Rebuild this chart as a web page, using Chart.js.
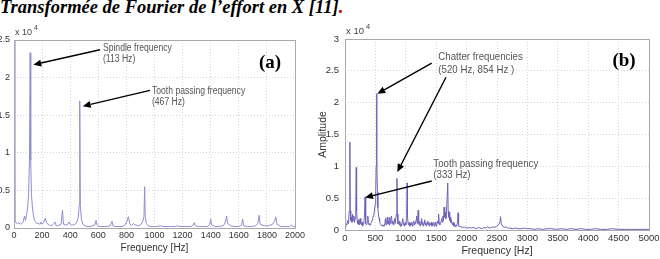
<!DOCTYPE html>
<html><head><meta charset="utf-8">
<script src="https://cdn.jsdelivr.net/npm/chart.js@4.4.1/dist/chart.umd.min.js"></script>
<style>
html,body{margin:0;padding:0;background:#fff;}
#page{position:relative;width:660px;height:259px;overflow:hidden;background:#fff;}
#title{position:absolute;left:0;top:-3px;font:bold italic 18.5px "Liberation Serif","Times New Roman",serif;color:#000;white-space:nowrap;}
#title span{color:#c00000;}
.box{position:absolute;}
</style></head><body>
<div id="page">
<div id="title">Transformée de Fourier de l’effort en X [11]<span>.</span></div>
<div class="box" style="left:310px;top:20px;width:350px;height:239px"><canvas id="chartB" width="350" height="239"></canvas></div>
<div class="box" style="left:0;top:20px;width:312px;height:239px"><canvas id="chartA" width="312" height="239"></canvas></div>
</div>
<script>
// spectrum (a): [frequency Hz, amplitude x1e4]
const spectrumA = [
  [0,2.5],[6,0.1],[15,0.07],[25,0.06],[35,0.07],[45,0.05],[55,0.06],[65,0.08],[75,0.16],[82,0.1],
  [90,0.18],[98,0.3],[104,0.45],[110,0.9],[115,2.33],[119,0.9],[124,0.45],[130,0.3],[137,0.18],[146,0.1],
  [155,0.07],[165,0.06],[175,0.06],[185,0.05],[192,0.08],[200,0.05],[210,0.07],[222,0.13],[230,0.08],[240,0.05],
  [250,0.04],[262,0.03],[275,0.04],[292,0.08],[300,0.03],[310,0.03],[322,0.04],[335,0.05],[345,0.24],[352,0.05],
  [365,0.04],[378,0.04],[392,0.08],[400,0.05],[410,0.04],[422,0.04],[435,0.05],[448,0.08],[458,0.15],[464,0.3],
  [468,1.69],[472,0.3],[480,0.12],[490,0.05],[505,0.03],[520,0.02],[540,0.02],[560,0.03],[575,0.04],[584,0.1],
  [592,0.04],[605,0.02],[625,0.02],[645,0.02],[665,0.02],[685,0.03],[697,0.09],[704,0.03],[720,0.02],[745,0.02],
  [770,0.02],[790,0.04],[802,0.08],[814,0.15],[824,0.06],[835,0.03],[850,0.06],[860,0.04],[870,0.04],[885,0.03],
  [900,0.04],[915,0.08],[925,0.15],[930,0.55],[934,0.15],[942,0.06],[955,0.03],[975,0.02],[1000,0.02],[1020,0.02],
  [1040,0.03],[1060,0.02],[1090,0.02],[1120,0.02],[1150,0.02],[1162,0.03],[1175,0.02],[1200,0.02],[1230,0.02],[1260,0.02],
  [1275,0.04],[1283,0.07],[1290,0.03],[1320,0.02],[1350,0.02],[1380,0.02],[1393,0.05],[1400,0.12],[1406,0.04],[1430,0.02],
  [1460,0.02],[1490,0.03],[1505,0.08],[1513,0.16],[1520,0.06],[1540,0.03],[1570,0.02],[1600,0.02],[1620,0.04],[1628,0.12],
  [1634,0.03],[1660,0.02],[1690,0.02],[1720,0.03],[1735,0.06],[1745,0.17],[1752,0.05],[1780,0.03],[1810,0.03],[1840,0.05],
  [1855,0.09],[1863,0.15],[1872,0.05],[1900,0.02],[1930,0.02],[1960,0.02],[1975,0.04],[1985,0.02],[2000,0.02]
];
// spectrum (b): [frequency Hz, amplitude x1e4]
const spectrumB = [
  [0,0.05],[15,0.1],[30,0.08],[45,0.15],[58,0.1],[70,0.3],[80,1.38],[86,0.3],[95,0.15],[105,0.2],
  [115,0.12],[125,0.25],[135,0.15],[145,0.22],[155,0.12],[165,0.18],[177,0.3],[185,0.98],[191,0.3],[200,0.15],
  [210,0.1],[220,0.16],[230,0.08],[240,0.12],[250,0.18],[260,0.1],[270,0.08],[280,0.12],[290,0.06],[300,0.1],
  [310,0.15],[320,0.2],[330,0.52],[336,0.2],[345,0.1],[355,0.08],[365,0.12],[375,0.22],[385,0.12],[395,0.08],
  [405,0.1],[415,0.08],[425,0.1],[435,0.12],[445,0.15],[455,0.18],[465,0.22],[475,0.25],[485,0.3],[495,0.4],
  [505,0.6],[513,1.0],[520,2.14],[525,1.1],[533,0.6],[540,0.35],[550,0.25],[560,0.18],[570,0.14],[580,0.1],
  [595,0.08],[610,0.06],[625,0.08],[640,0.06],[655,0.1],[665,0.18],[675,0.08],[685,0.12],[695,0.2],[705,0.1],
  [715,0.14],[725,0.08],[735,0.2],[745,0.1],[755,0.16],[765,0.22],[775,0.1],[785,0.14],[795,0.08],[805,0.12],
  [815,0.18],[825,0.1],[845,0.25],[854,0.81],[860,0.25],[870,0.1],[880,0.12],[890,0.08],[900,0.14],[910,0.06],
  [920,0.1],[930,0.06],[940,0.12],[950,0.18],[960,0.08],[970,0.1],[980,0.06],[990,0.12],[1000,0.08],[1008,0.15],
  [1015,0.25],[1022,0.74],[1028,0.22],[1038,0.1],[1048,0.08],[1058,0.12],[1068,0.06],[1078,0.1],[1088,0.08],[1098,0.12],
  [1108,0.06],[1118,0.1],[1128,0.14],[1138,0.08],[1148,0.12],[1158,0.1],[1168,0.16],[1178,0.22],[1188,0.1],[1196,0.2],
  [1204,0.31],[1211,0.12],[1220,0.08],[1230,0.14],[1240,0.06],[1250,0.1],[1260,0.18],[1270,0.08],[1280,0.12],[1290,0.06],
  [1300,0.1],[1310,0.16],[1320,0.08],[1330,0.12],[1340,0.06],[1350,0.1],[1360,0.14],[1370,0.08],[1380,0.12],[1390,0.06],
  [1400,0.1],[1410,0.08],[1420,0.12],[1430,0.06],[1440,0.1],[1450,0.08],[1460,0.12],[1470,0.06],[1480,0.08],[1490,0.12],
  [1500,0.06],[1510,0.1],[1520,0.14],[1530,0.1],[1540,0.25],[1550,0.1],[1560,0.08],[1570,0.12],[1580,0.14],[1590,0.18],
  [1600,0.12],[1610,0.22],[1620,0.15],[1630,0.36],[1640,0.2],[1650,0.28],[1660,0.18],[1670,0.3],[1690,0.74],[1697,0.3],
  [1705,0.2],[1713,0.28],[1722,0.15],[1730,0.2],[1740,0.12],[1750,0.16],[1760,0.1],[1770,0.08],[1780,0.12],[1790,0.06],
  [1800,0.1],[1812,0.05],[1825,0.08],[1838,0.06],[1850,0.12],[1860,0.27],[1868,0.08],[1880,0.05],[1895,0.06],[1910,0.04],
  [1925,0.05],[1945,0.04],[1965,0.05],[1985,0.03],[2005,0.04],[2030,0.03],[2055,0.04],[2080,0.03],[2105,0.04],[2135,0.03],
  [2165,0.02],[2195,0.04],[2225,0.03],[2255,0.02],[2285,0.04],[2315,0.03],[2345,0.05],[2375,0.03],[2405,0.04],[2435,0.05],
  [2465,0.04],[2495,0.06],[2525,0.08],[2548,0.12],[2558,0.21],[2570,0.1],[2592,0.06],[2620,0.04],[2650,0.05],[2680,0.03],
  [2710,0.03],[2750,0.02],[2800,0.03],[2850,0.02],[2900,0.02],[2950,0.03],[3000,0.02],[3060,0.02],[3120,0.01],[3180,0.02],
  [3250,0.01],[3320,0.02],[3400,0.02],[3480,0.01],[3560,0.02],[3640,0.01],[3720,0.02],[3800,0.01],[3880,0.02],[3960,0.01],
  [4040,0.01],[4120,0.02],[4200,0.01],[4300,0.01],[4400,0.02],[4500,0.01],[4600,0.01],[4700,0.01],[4800,0.01],[4900,0.01],
  [5000,0.01]
];

const xTicksA = [0, 200, 400, 600, 800, 1000, 1200, 1400, 1600, 1800, 2000];
const yTicksA = [0, 0.5, 1, 1.5, 2, 2.5];
const xTicksB = [0, 500, 1000, 1500, 2000, 2500, 3000, 3500, 4000, 4500, 5000];
const yTicksB = [0, 0.5, 1, 1.5, 2, 2.5, 3];

// annotations in data coordinates
const notesA = {
  texts: [
    { x: 633, y: 2.39, t: 'Spindle frequency' }, { x: 633, y: 2.24, t: '(113 Hz)' },
    { x: 982, y: 1.82, t: 'Tooth passing frequency' }, { x: 982, y: 1.67, t: '(467 Hz)' }
  ],
  arrows: [
    { from: [612, 2.37], to: [137, 2.17] },
    { from: [968, 1.83], to: [489, 1.62] }
  ],
  panel: { x: 1822, y: 2.19, t: '(a)' }
};
const notesB = {
  texts: [
    { x: 1535, y: 2.72, t: 'Chatter frequencies' }, { x: 1535, y: 2.51, t: '(520 Hz, 854 Hz )' },
    { x: 1453, y: 1.03, t: 'Tooth passing frequency' }, { x: 1453, y: 0.86, t: '(333 Hz)' }
  ],
  arrows: [
    { from: [1426, 2.62], to: [531, 2.14] },
    { from: [1661, 2.40], to: [860, 0.91] },
    { from: [1426, 0.77], to: [329, 0.51] }
  ],
  panel: { x: 4589, y: 2.66, t: '(b)' }
};

const SANS = '"Liberation Sans",Arial,sans-serif';

const notesPlugin = {
  id: 'notes',
  afterDraw(chart, args, o) {
    const ctx = chart.ctx, a = chart.chartArea;
    const sx = chart.scales.x, sy = chart.scales.y;
    const px = v => sx.getPixelForValue(v), py = v => sy.getPixelForValue(v);
    ctx.save();
    // axes box
    ctx.strokeStyle = '#a8a8b0';
    ctx.lineWidth = 1;
    ctx.strokeRect(Math.round(a.left) + 0.5, Math.round(a.top) + 0.5, Math.round(a.right - a.left), Math.round(a.bottom - a.top));
    // exponent
    ctx.fillStyle = '#444';
    ctx.textAlign = 'left';
    ctx.textBaseline = 'alphabetic';
    ctx.font = o.expSize + 'px ' + SANS;
    ctx.fillText('x 10', a.left + 1, a.top - 5);
    const w = ctx.measureText('x 10').width;
    ctx.font = (o.expSize - 2) + 'px ' + SANS;
    ctx.fillText('4', a.left + 3 + w, a.top - 10);
    // texts (narrow face, like the original)
    ctx.fillStyle = '#555';
    ctx.textBaseline = 'middle';
    ctx.font = o.textSize + 'px ' + SANS;
    o.data.texts.forEach(t => {
      ctx.save();
      ctx.translate(px(t.x), py(t.y));
      ctx.scale(o.squeeze, 1);
      ctx.fillText(t.t, 0, 0);
      ctx.restore();
    });
    // arrows
    ctx.strokeStyle = '#000';
    ctx.fillStyle = '#000';
    ctx.lineWidth = 1.4;
    o.data.arrows.forEach(ar => {
      const x1 = px(ar.from[0]), y1 = py(ar.from[1]);
      const x2 = px(ar.to[0]), y2 = py(ar.to[1]);
      const ang = Math.atan2(y2 - y1, x2 - x1);
      const L = 8, H = 3.5;
      const bx = x2 - L * Math.cos(ang), by = y2 - L * Math.sin(ang);
      ctx.beginPath();
      ctx.moveTo(x1, y1);
      ctx.lineTo(bx, by);
      ctx.stroke();
      ctx.beginPath();
      ctx.moveTo(x2, y2);
      ctx.lineTo(bx + H * Math.sin(ang), by - H * Math.cos(ang));
      ctx.lineTo(bx - H * Math.sin(ang), by + H * Math.cos(ang));
      ctx.closePath();
      ctx.fill();
    });
    // panel label
    const p = o.data.panel;
    ctx.font = 'bold 19px "Liberation Serif","Times New Roman",serif';
    ctx.textAlign = 'center';
    ctx.fillStyle = '#000';
    ctx.fillText(p.t, px(p.x), py(p.y));
    ctx.restore();
  }
};

function makeChart(id, spec, xTicks, yTicks, cfg) {
  const tickFont = { family: SANS, size: cfg.tickSize };
  new Chart(document.getElementById(id), {
    type: 'line',
    data: {
      datasets: [{
        data: spec.map(p => ({ x: p[0], y: p[1] })),
        borderColor: cfg.color,
        borderWidth: 1,
        pointRadius: 0,
        tension: 0,
        fill: false
      }]
    },
    options: {
      responsive: false,
      animation: false,
      devicePixelRatio: 1,
      layout: { padding: { top: cfg.top, right: cfg.right, left: 0, bottom: 0 } },
      plugins: {
        legend: { display: false },
        tooltip: { enabled: false },
        notes: { data: cfg.notes, expSize: cfg.tickSize, textSize: cfg.textSize, squeeze: cfg.squeeze }
      },
      scales: {
        x: {
          type: 'linear',
          min: xTicks[0], max: xTicks[xTicks.length - 1],
          afterBuildTicks: s => { s.ticks = xTicks.map(v => ({ value: v })); },
          ticks: { font: tickFont, color: '#333', padding: cfg.xPad, maxRotation: 0, autoSkip: false, callback: v => String(v) },
          grid: { color: '#d6d6d6', drawTicks: false },
          border: { display: false, dash: [1, 2] },
          title: { display: true, text: 'Frequency [Hz]', font: { family: SANS, size: cfg.titleSize }, color: '#333', padding: { top: 1, bottom: cfg.titleBottom } },
          afterFit: s => { s.height = cfg.xHeight; s.paddingLeft = 0; s.paddingRight = 0; }
        },
        y: {
          type: 'linear',
          min: yTicks[0], max: yTicks[yTicks.length - 1],
          afterBuildTicks: s => { s.ticks = yTicks.map(v => ({ value: v })); },
          ticks: { font: tickFont, color: '#333', padding: cfg.yPad, callback: v => String(v) },
          grid: { color: '#d6d6d6', drawTicks: false },
          border: { display: false, dash: [1, 2] },
          title: { display: !!cfg.yTitle, text: cfg.yTitle || '', font: { family: SANS, size: cfg.titleSize }, color: '#333', padding: { top: 7, bottom: 0 } },
          afterFit: s => { s.width = cfg.yWidth; s.paddingTop = 0; s.paddingBottom = 0; }
        }
      }
    },
    plugins: [notesPlugin]
  });
}

makeChart('chartA', spectrumA, xTicksA, yTicksA, {
  color: '#8e8ed2', top: 20, right: 17, yWidth: 14, xHeight: 31,
  tickSize: 9, titleSize: 10, titleBottom: 5, textSize: 10, squeeze: 0.86, xPad: 2, yPad: 4, notes: notesA
});
makeChart('chartB', spectrumB, xTicksB, yTicksB, {
  color: '#6e62b6', top: 19, right: 11, yWidth: 35, xHeight: 29,
  tickSize: 9.5, titleSize: 10.5, titleBottom: 2, textSize: 11, squeeze: 0.88, xPad: 3, yPad: 6, yTitle: 'Amplitude', notes: notesB
});
</script>
</body></html>
